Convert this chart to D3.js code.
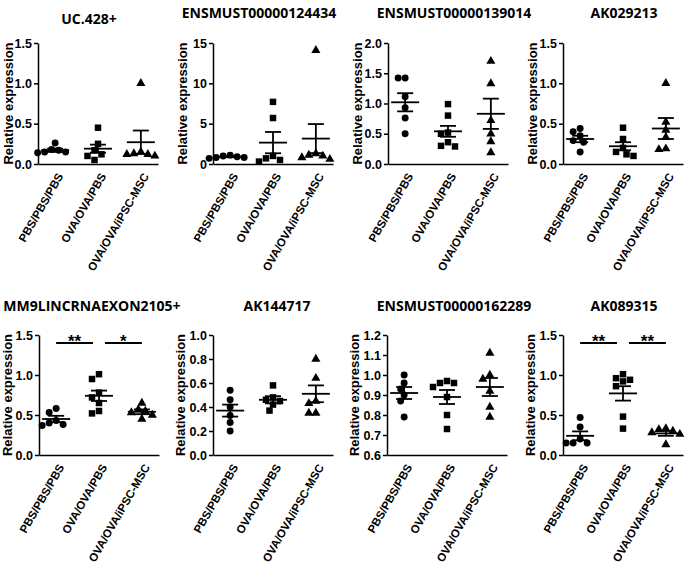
<!DOCTYPE html>
<html>
<head>
<meta charset="utf-8">
<script src="https://cdn.jsdelivr.net/npm/d3@7"></script>
<style>
  body { margin: 0; background: #fff; }
  svg { display: block; }
  .tick text, .xlab, .ylab { font-family: "Liberation Sans", Arial, sans-serif; font-weight: bold; fill: #000; }
  .title { font-family: "Open Sans", sans-serif; font-weight: bold; fill: #000; }
</style>
</head>
<body>
<div id="chart"></div>
<script>
// groups on the x axis (same for every panel)
const groups = ["PBS/PBS/PBS", "OVA/OVA/PBS", "OVA/OVA/iPSC-MSC"];

const titles = ["UC.428+", "ENSMUST00000124434", "ENSMUST00000139014", "AK029213",
  "MM9LINCRNAEXON2105+", "AK144717", "ENSMUST00000162289", "AK089315"];

// y axis domains and tick labels
const yDomains = [[0, 1.5], [0, 15], [0, 2], [0, 1.5], [0, 1.5], [0, 1], [0.6, 1.2], [0, 1.5]];
const yTicks = [
  ["0.0", "0.5", "1.0", "1.5"],
  ["0", "5", "10", "15"],
  ["0.0", "0.5", "1.0", "1.5", "2.0"],
  ["0.0", "0.5", "1.0", "1.5"],
  ["0.0", "0.5", "1.0", "1.5"],
  ["0.0", "0.2", "0.4", "0.6", "0.8", "1.0"],
  ["0.6", "0.7", "0.8", "0.9", "1.0", "1.1", "1.2"],
  ["0.0", "0.5", "1.0", "1.5"]
];

// individual animals, one list per group
const uc428 = [[0.26, 0.18, 0.17, 0.15, 0.14, 0.15], [0.45, 0.25, 0.17, 0.12, 0.10, 0.05], [1.0, 0.15, 0.13, 0.12, 0.12, 0.10]];
const ens124434 = [[1.1, 1.0, 0.9, 0.8, 0.8, 0.7], [7.7, 5.7, 1.0, 0.7, 0.5, 0.3], [14.1, 1.3, 1.1, 1.0, 0.8, 0.6]];
const ens139014 = [[1.42, 1.42, 1.11, 0.93, 0.76, 0.50], [0.99, 0.80, 0.52, 0.50, 0.36, 0.30, 0.29], [1.7, 1.33, 0.72, 0.50, 0.37, 0.19]];
const ak029213 = [[0.44, 0.40, 0.35, 0.29, 0.27, 0.15], [0.45, 0.31, 0.20, 0.15, 0.12, 0.10], [1.0, 0.52, 0.42, 0.33, 0.19, 0.18]];
const mm9exon = [[0.58, 0.53, 0.43, 0.40, 0.38, 0.37], [1.01, 0.95, 0.78, 0.72, 0.65, 0.55, 0.52], [0.65, 0.57, 0.55, 0.53, 0.50, 0.45]];
const ak144717 = [[0.54, 0.46, 0.40, 0.33, 0.27, 0.20], [0.58, 0.48, 0.46, 0.45, 0.42, 0.37], [0.80, 0.64, 0.45, 0.43, 0.35, 0.35]];
const ens162289 = [[1.0, 0.96, 0.93, 0.90, 0.87, 0.79], [0.97, 0.96, 0.96, 0.94, 0.89, 0.80, 0.73], [1.11, 1.0, 0.98, 0.92, 0.84, 0.79]];
const ak089315 = [[0.47, 0.35, 0.20, 0.15, 0.15, 0.15], [1.01, 0.96, 0.94, 0.92, 0.86, 0.48, 0.33], [0.33, 0.32, 0.30, 0.28, 0.26, 0.13]];
const points = [uc428, ens124434, ens139014, ak029213, mm9exon, ak144717, ens162289, ak089315];

// mean and SEM as drawn
const means = [[0.17, 0.19, 0.27], [0.9, 2.65, 3.15], [1.02, 0.54, 0.83], [0.31, 0.22, 0.44],
  [0.45, 0.74, 0.54], [0.37, 0.46, 0.51], [0.91, 0.89, 0.94], [0.24, 0.77, 0.27]];
const sems = [[0.02, 0.05, 0.145], [0.06, 1.32, 1.8], [0.15, 0.09, 0.25], [0.04, 0.05, 0.13],
  [0.04, 0.065, 0.03], [0.05, 0.03, 0.07], [0.03, 0.035, 0.045], [0.055, 0.09, 0.03]];

// significance brackets: panel index, from group, to group, value, label
const sigBars = [
  [4, 0, 1, 1.4, "**"], [4, 1, 2, 1.4, "*"],
  [7, 0, 1, 1.4, "**"], [7, 1, 2, 1.4, "**"]
];

const width = 685, height = 564;
const layout = [
  { x0: 38, top: 43, bottom: 164, tx: 89, ty: 24, lab: 25 },
  { x0: 213, top: 43, bottom: 164, tx: 259, ty: 18, lab: 26 },
  { x0: 388, top: 43, bottom: 164, tx: 454, ty: 18, lab: 26 },
  { x0: 563, top: 43, bottom: 164, tx: 624, ty: 18, lab: 26 },
  { x0: 39, top: 335, bottom: 455, tx: 92, ty: 311, lab: 27 },
  { x0: 213, top: 335, bottom: 455, tx: 277, ty: 311, lab: 28 },
  { x0: 387, top: 335, bottom: 455, tx: 454, ty: 311, lab: 28 },
  { x0: 563, top: 335, bottom: 455, tx: 624, ty: 311, lab: 28 }
];
const symbols = [d3.symbolCircle, d3.symbolSquare, d3.symbolTriangle];
const symSize = [38, 42, 36];

const svg = d3.select("#chart").append("svg")
  .attr("width", width)
  .attr("height", height);

// simple beeswarm so overlapping points sit side by side
function swarm(vals, cx, y, d) {
  const placed = [];
  vals.map(v => ({ v, py: y(v) }))
    .sort((a, b) => a.py - b.py)
    .forEach(p => {
      for (let k = 0; k < 30; k++) {
        const off = k === 0 ? 0 : Math.ceil(k / 2) * (d / 2) * (k % 2 ? -1 : 1);
        const ok = placed.every(q => Math.hypot(q.px - (cx + off), q.py - p.py) >= d * 0.95);
        if (ok) { placed.push({ px: cx + off, py: p.py }); break; }
      }
    });
  return placed;
}

layout.forEach((L, i) => {
  const g = svg.append("g");
  const y = d3.scaleLinear().domain(yDomains[i]).range([L.bottom, L.top]);
  const x = d3.scalePoint().domain(groups).range([L.x0, L.x0 + 120]).padding(0.4);

  g.append("text").attr("class", "title")
    .attr("x", L.tx).attr("y", L.ty)
    .attr("text-anchor", "middle")
    .style("font-size", "14px")
    .text(titles[i]);

  const yAxis = g.append("g")
    .attr("transform", `translate(${L.x0},0)`)
    .call(d3.axisLeft(y)
      .tickValues(yTicks[i].map(Number))
      .tickFormat((d, j) => yTicks[i][j])
      .tickSize(4).tickSizeOuter(0).tickPadding(2));
  yAxis.selectAll("path, line").attr("stroke", "#000").attr("stroke-width", 1.5);
  yAxis.selectAll("text").style("font-size", "12.5px");

  const xAxis = g.append("g")
    .attr("transform", `translate(0,${L.bottom})`)
    .call(d3.axisBottom(x).tickSize(0).tickSizeOuter(0).tickFormat(""));
  xAxis.select(".domain").attr("stroke", "#000").attr("stroke-width", 1.5);

  g.selectAll(".xlab").data(groups).enter().append("text")
    .attr("class", "xlab")
    .attr("text-anchor", "end")
    .attr("transform", d => `translate(${x(d) + 5},${L.bottom + 10}) rotate(-60)`)
    .attr("dy", "0.35em")
    .style("font-size", "11.5px")
    .text(d => d);

  g.append("text").attr("class", "ylab")
    .attr("transform", `translate(${L.x0 - L.lab},${(L.top + L.bottom) / 2}) rotate(-90)`)
    .attr("text-anchor", "middle")
    .style("font-size", "13px")
    .text("Relative expression");

  groups.forEach((grp, k) => {
    const cx = x(grp);
    const pts = swarm(points[i][k], cx, y, 7);
    g.selectAll(null).data(pts).enter().append("path")
      .attr("d", d3.symbol().type(symbols[k]).size(symSize[k]))
      .attr("transform", d => `translate(${d.px},${d.py})`)
      .attr("fill", "#000");

    const m = means[i][k], s = sems[i][k];
    g.append("line")
      .attr("x1", cx - 14).attr("x2", cx + 14)
      .attr("y1", y(m)).attr("y2", y(m))
      .attr("stroke", "#000").attr("stroke-width", 1.8);
    g.append("line")
      .attr("x1", cx).attr("x2", cx)
      .attr("y1", y(m - s)).attr("y2", y(m + s))
      .attr("stroke", "#000").attr("stroke-width", 1.8);
    [m - s, m + s].forEach(v => {
      g.append("line")
        .attr("x1", cx - 8).attr("x2", cx + 8)
        .attr("y1", y(v)).attr("y2", y(v))
        .attr("stroke", "#000").attr("stroke-width", 1.8);
    });
  });

  sigBars.filter(b => b[0] === i).forEach(([, a, b, v, label]) => {
    const x1 = a === 1 ? x(groups[a]) + 6 : x(groups[a]);
    const x2 = b === 1 ? x(groups[b]) - 6 : x(groups[b]);
    g.append("line")
      .attr("x1", x1).attr("x2", x2)
      .attr("y1", y(v)).attr("y2", y(v))
      .attr("stroke", "#000").attr("stroke-width", 2);
    g.append("text").attr("class", "xlab")
      .attr("x", (x1 + x2) / 2).attr("y", y(v) + 4)
      .attr("text-anchor", "middle")
      .style("font-size", "17px")
      .text(label);
  });
});
</script>
</body>
</html>
